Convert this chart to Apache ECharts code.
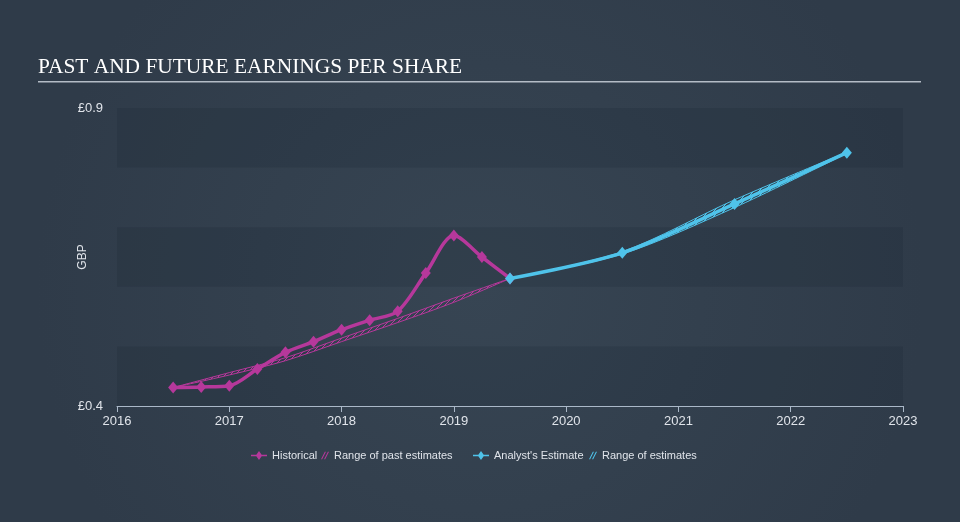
<!DOCTYPE html>
<html>
<head>
<meta charset="utf-8">
<script src="https://cdn.jsdelivr.net/npm/echarts@6/dist/echarts.min.js"></script>
<style>
html,body{margin:0;padding:0;background:#333f4d;}
#chart{width:960px;height:522px;}
</style>
</head>
<body>
<div id="chart"></div>
<script>
// ---- data ----
const histYears = [2016.5, 2016.75, 2017.0, 2017.25, 2017.5, 2017.75, 2018.0, 2018.25, 2018.5, 2018.75, 2019.0, 2019.25, 2019.5];
const histEPS   = [0.431, 0.432, 0.434, 0.462, 0.490, 0.508, 0.528, 0.544, 0.559, 0.623, 0.686, 0.650, 0.614];

const pastRangeYears = [2016.5, 2017.0, 2017.5, 2018.0, 2018.5, 2019.0, 2019.5];
const pastRangeLow   = [0.431, 0.452, 0.476, 0.508, 0.540, 0.574, 0.614];
const pastRangeHigh  = [0.431, 0.456, 0.481, 0.514, 0.547, 0.581, 0.614];

const estYears = [2019.5, 2020.5, 2021.5, 2022.5];
const estEPS   = [0.614, 0.657, 0.739, 0.825];

const estRangeYears = [2019.5, 2020.5, 2021.5, 2022.5];
const estRangeLow   = [0.614, 0.655, 0.733, 0.824];
const estRangeHigh  = [0.614, 0.659, 0.746, 0.826];

const yTickLabels = {0.4: '£0.4', 0.9: '£0.9'};

// ---- styles ----
const PINK = '#b6389b';
const BLUE = '#4fc3ea';
const FONT = 'Liberation Sans, Arial, sans-serif';
const TXT = '#e0e4ea';

function hatch(color) {
  const c = document.createElement('canvas');
  c.width = 5; c.height = 5;
  const g = c.getContext('2d');
  g.strokeStyle = color; g.lineWidth = 1;
  g.beginPath(); g.moveTo(0, 5); g.lineTo(5, 0); g.stroke();
  g.beginPath(); g.moveTo(-1, 1); g.lineTo(1, -1); g.stroke();
  g.beginPath(); g.moveTo(4, 6); g.lineTo(6, 4); g.stroke();
  return {image: c, repeat: 'repeat'};
}

function rangeSeries(name, years, low, high, color) {
  return {
    name: name,
    type: 'custom',
    data: years.map((y, i) => [y, low[i], high[i]]),
    encode: {x: 0, y: [1, 2]},
    itemStyle: {color: color},
    z: 2,
    renderItem: function (params, api) {
      if (params.dataIndex !== 0) return;
      const top = years.map((y, i) => api.coord([y, high[i]]));
      const bot = years.map((y, i) => api.coord([y, low[i]])).reverse();
      return {
        type: 'group',
        children: [
          {type: 'polygon', shape: {points: top.concat(bot), smooth: 0.3}, style: {fill: hatch(color), stroke: null}},
          {type: 'polyline', shape: {points: top, smooth: 0.3}, style: {stroke: color, lineWidth: 1, fill: null}},
          {type: 'polyline', shape: {points: bot.slice().reverse(), smooth: 0.3}, style: {stroke: color, lineWidth: 1, fill: null}}
        ]
      };
    }
  };
}

const hatchIcon = 'path://M0,10L5,0L6.5,0L1.5,10Z M4,10L9,0L10.5,0L5.5,10Z';
const lineDiamondIcon = 'path://M0,4.2L6,4.2L9,0L12,4.2L18,4.2L18,5.8L12,5.8L9,10L6,5.8L0,5.8Z';

function legendAt(left, width, name, icon, color) {
  return {
    left: left, top: 445, itemWidth: width, itemHeight: 10,
    textStyle: {color: TXT, fontSize: 11, fontFamily: FONT},
    selectedMode: false,
    data: [{name: name, icon: icon, itemStyle: {color: color}}]
  };
}

const chart = echarts.init(document.getElementById('chart'));
chart.setOption({
  backgroundColor: {
    type: 'radial', x: 0.5, y: 0.55, r: 0.85,
    colorStops: [{offset: 0, color: '#374553'}, {offset: 1, color: '#2f3b49'}]
  },
  animation: false,
  graphic: [
    {type: 'text', left: 38, top: 57, style: {text: 'PAST AND FUTURE EARNINGS PER SHARE', fill: '#ffffff', font: '21.4px "Liberation Serif", serif'}},
    {type: 'rect', shape: {x: 38, y: 81, width: 883, height: 1.5}, style: {fill: '#b4bcc6'}}
  ],
  legend: [
    legendAt(246, 16, 'Historical', lineDiamondIcon, PINK),
    legendAt(316, 8, 'Range of past estimates', hatchIcon, PINK),
    legendAt(468, 16, "Analyst's Estimate", lineDiamondIcon, BLUE),
    legendAt(584, 8, 'Range of estimates', hatchIcon, BLUE)
  ],
  grid: {left: 117, right: 57, top: 108, bottom: 116, containLabel: false},
  xAxis: {
    type: 'value', min: 2016, max: 2023, interval: 1,
    axisLine: {show: true, lineStyle: {color: '#aab8c8', width: 1}},
    axisTick: {show: true, length: 6, lineStyle: {color: '#aab8c8'}},
    axisLabel: {color: TXT, fontSize: 13, margin: 9, fontFamily: FONT, formatter: v => String(v)},
    splitLine: {show: false}
  },
  yAxis: {
    type: 'value', min: 0.4, max: 0.9, interval: 0.1,
    name: 'GBP', nameLocation: 'middle', nameGap: 28, nameRotate: 90, nameMoveOverlap: false,
    nameTextStyle: {color: TXT, fontSize: 12, fontFamily: FONT},
    axisLine: {show: false}, axisTick: {show: false},
    axisLabel: {
      color: TXT, fontSize: 13, margin: 14, fontFamily: FONT,
      formatter: function (v) {
        for (const k in yTickLabels) { if (Math.abs(v - Number(k)) < 1e-6) return yTickLabels[k]; }
        return '';
      }
    },
    splitLine: {show: false},
    splitArea: {show: true, areaStyle: {color: ['rgba(20,30,42,0.16)', 'rgba(0,0,0,0)']}}
  },
  series: [
    rangeSeries('Range of past estimates', pastRangeYears, pastRangeLow, pastRangeHigh, PINK),
    rangeSeries('Range of estimates', estRangeYears, estRangeLow, estRangeHigh, BLUE),
    {
      name: 'Historical', type: 'line', smooth: 0.3, z: 3,
      data: histYears.map((y, i) => [y, histEPS[i]]),
      symbol: 'diamond', symbolSize: [10, 12],
      lineStyle: {color: PINK, width: 3.5}, itemStyle: {color: PINK}
    },
    {
      name: "Analyst's Estimate", type: 'line', smooth: 0.3, z: 4,
      data: estYears.map((y, i) => [y, estEPS[i]]),
      symbol: 'diamond', symbolSize: [10, 12],
      lineStyle: {color: BLUE, width: 3.5}, itemStyle: {color: BLUE}
    }
  ]
});
</script>
</body>
</html>
